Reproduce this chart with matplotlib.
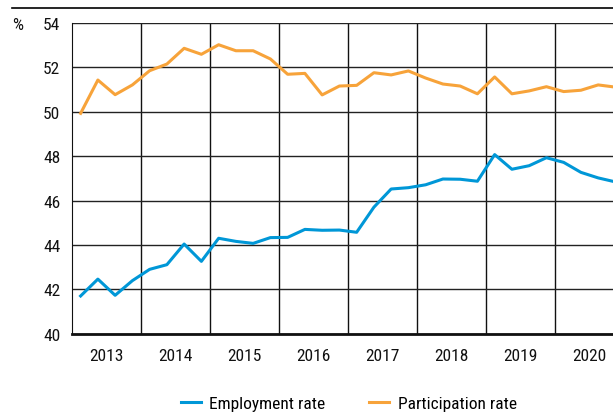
import matplotlib.pyplot as plt
from matplotlib.lines import Line2D
from matplotlib import font_manager

names = {f.name for f in font_manager.fontManager.ttflist}
fam = [n for n in ['Liberation Sans Narrow', 'Roboto Condensed', 'Roboto'] if n in names]
plt.rcParams['font.family'] = fam[:1] + ['DejaVu Sans']

# quarterly data 2013Q1 .. 2020Q4
years = ["2013", "2014", "2015", "2016", "2017", "2018", "2019", "2020"]
employment = [41.7, 42.46, 41.73, 42.39, 42.9, 43.11, 44.04, 43.26,
              44.3, 44.16, 44.07, 44.33, 44.34, 44.7, 44.66, 44.67,
              44.57, 45.7, 46.52, 46.58, 46.71, 46.97, 46.96, 46.87,
              48.07, 47.41, 47.57, 47.93, 47.72, 47.27, 47.02, 46.84]
participation = [49.93, 51.43, 50.77, 51.21, 51.85, 52.15, 52.86, 52.59,
                 53.02, 52.75, 52.75, 52.38, 51.69, 51.73, 50.76, 51.16,
                 51.19, 51.76, 51.66, 51.84, 51.52, 51.25, 51.16, 50.81,
                 51.57, 50.81, 50.94, 51.13, 50.91, 50.97, 51.21, 51.11]

blue = "#0097d7"
orange = "#f7a33a"
fs = 12.5

fig = plt.figure(figsize=(6.13, 4.14), dpi=100)
ax = fig.add_axes([72 / 613, 1 - 334.7 / 414, 1 - 72 / 613, (334.7 - 24) / 414])

x = list(range(len(employment)))
ax.plot(x, employment, color=blue, lw=2.2, label="Employment rate", zorder=3)
ax.plot(x, participation, color=orange, lw=2.2, label="Participation rate", zorder=3)

ax.set_xlim(-0.5, 30.86)
ax.set_ylim(40, 54)

ax.set_yticks(range(40, 55, 2))
ax.set_xticks([i * 4 + 1.5 for i in range(len(years))])
ax.set_xticklabels(years)
ax.set_xticks([i * 4 - 0.5 for i in range(1, len(years))], minor=True)
ax.tick_params(which='both', length=0, labelsize=fs, colors='#111111')
ax.tick_params(axis='y', pad=8.5)
ax.tick_params(axis='x', pad=10)

ax.grid(axis='y', which='major', color='#222222', lw=1)
ax.grid(axis='x', which='minor', color='#111111', lw=1)

for s in ['right', 'top']:
    ax.spines[s].set_visible(False)
ax.spines['left'].set_color('#111111')
ax.spines['bottom'].set_color('#111111')
ax.spines['bottom'].set_linewidth(2)

fig.text(12 / 613, 1 - 26 / 414, "%", fontsize=fs, ha='left', va='center', color='#111111')
fig.add_artist(Line2D([12 / 613, 1], [1 - 9 / 414, 1 - 9 / 414], color='black', lw=1.2))

fig.legend(loc='center', bbox_to_anchor=(0.569, 1 - 404 / 414), ncol=2, frameon=False,
           fontsize=fs, handlelength=1.15, columnspacing=2.5, handletextpad=0.5)

fig.savefig("out.png", dpi=100)
